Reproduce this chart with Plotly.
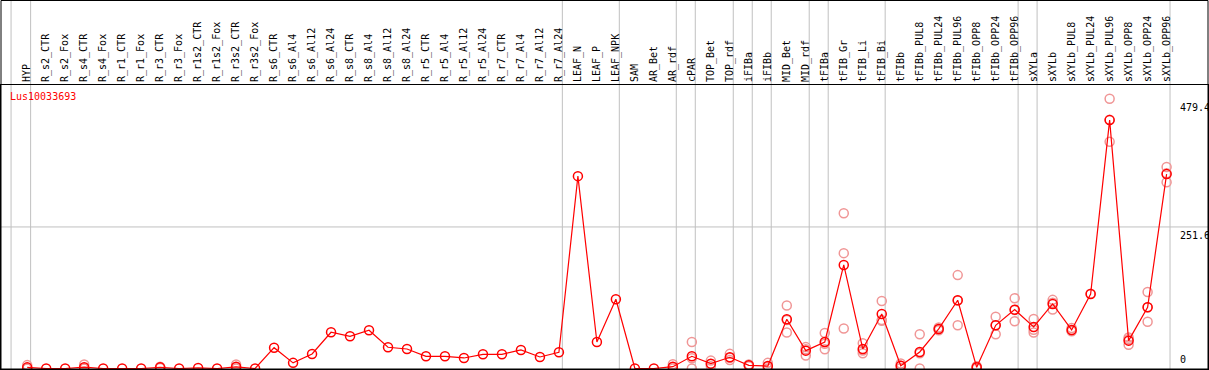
import plotly.graph_objects as go

categories = ["HYP", "R_s2_CTR", "R_s2_Fox", "R_s4_CTR", "R_s4_Fox", "R_r1_CTR", "R_r1_Fox",
              "R_r3_CTR", "R_r3_Fox", "R_r1s2_CTR", "R_r1s2_Fox", "R_r3s2_CTR", "R_r3s2_Fox",
              "R_s6_CTR", "R_s6_Al4", "R_s6_Al12", "R_s6_Al24", "R_s8_CTR", "R_s8_Al4", "R_s8_Al12",
              "R_s8_Al24", "R_r5_CTR", "R_r5_Al4", "R_r5_Al12", "R_r5_Al24", "R_r7_CTR", "R_r7_Al4",
              "R_r7_Al12", "R_r7_Al24", "LEAF_N", "LEAF_P", "LEAF_NPK", "SAM", "AR_Bet", "AR_rdf",
              "cPAR", "TOP_Bet", "TOP_rdf", "iFIBa", "iFIBb", "MID_Bet", "MID_rdf", "tFIBa",
              "tFIB_Gr", "tFIB_Li", "tFIB_Bi", "tFIBb", "tFIBb_PUL8", "tFIBb_PUL24", "tFIBb_PUL96",
              "tFIBb_OPP8", "tFIBb_OPP24", "tFIBb_OPP96", "sXYLa", "sXYLb", "sXYLb_PUL8",
              "sXYLb_PUL24", "sXYLb_PUL96", "sXYLb_OPP8", "sXYLb_OPP24", "sXYLb_OPP96"]

mean_values = [2, 0, 0, 2.3, 0, 0, 0,
               2, 0, 1, 0, 3, 0,
               37, 10, 25.8, 64.4, 57.3, 68, 37.7,
               34.7, 21.7, 21.7, 18.7, 25.2, 25.2, 32.9,
               20.5, 28.8, 341.9, 47.1, 123.1, 0, 0, 3.2,
               21.7, 8.6, 19.9, 5.7, 4.4, 87.5, 31.7, 47.1,
               184, 34.7, 97, 5, 29.4, 70.3, 121.3,
               2.1, 76.8, 104.6, 73.8, 114.7, 68.5,
               132.5, 441.5, 49.5, 108.9, 345.5]

rep_categories = (["HYP"] * 3 + ["R_s4_CTR"] * 3 + ["R_r3_CTR"] * 3 + ["R_r3s2_CTR"] * 3 +
                  ["AR_rdf"] * 3 + ["cPAR"] * 3 + ["TOP_Bet"] * 3 + ["TOP_rdf"] * 3 +
                  ["iFIBa"] * 3 + ["iFIBb"] * 3 + ["MID_Bet"] * 3 + ["MID_rdf"] * 3 +
                  ["tFIBa"] * 3 + ["tFIB_Gr"] * 3 + ["tFIB_Li"] * 3 + ["tFIB_Bi"] * 3 +
                  ["tFIBb"] * 3 + ["tFIBb_PUL8"] * 3 + ["tFIBb_PUL24"] * 3 + ["tFIBb_PUL96"] * 3 +
                  ["tFIBb_OPP8"] * 3 + ["tFIBb_OPP24"] * 3 + ["tFIBb_OPP96"] * 3 + ["sXYLa"] * 3 +
                  ["sXYLb"] * 3 + ["sXYLb_PUL8"] * 3 + ["sXYLb_PUL24"] * 1 + ["sXYLb_PUL96"] * 3 +
                  ["sXYLb_OPP8"] * 3 + ["sXYLb_OPP24"] * 3 + ["sXYLb_OPP96"] * 3)
rep_values = [6, 0, 0, 7, 0, 0, 3, 2, 1, 7, 2, 0,
              7.5, 2, 0, 47, 18, 0, 14, 8, 4, 26, 19, 15,
              7, 6, 4, 10, 3, 0, 112, 86, 64, 38, 34, 23,
              63, 44, 34, 276, 205, 71, 45, 32, 27, 120, 86, 85,
              9, 5, 1, 61, 27, 0, 73, 70, 68, 166, 121, 77,
              4, 2, 0, 92, 77, 61, 125, 104, 84, 88, 69, 64,
              122, 117, 105, 72, 67, 66, 133, 479.4, 442, 403,
              55, 52, 42, 136, 109, 83, 358, 347, 331]

group_ends = ["HYP", "R_r7_Al24", "LEAF_NPK", "AR_rdf", "cPAR", "TOP_rdf", "iFIBa", "iFIBb",
              "MID_rdf", "tFIBa", "tFIB_Bi", "tFIBb_OPP96", "sXYLa", "sXYLb_OPP96"]

y_labels = [479.4, 251.6, 0]
grid_values = [251.6]
gene_id = "Lus10033693"

idx = {c: i for i, c in enumerate(categories)}
x_main = list(range(len(categories)))
x_rep = [idx[c] for c in rep_categories]

RED = "#ff0000"
FADED = "rgb(240,150,150)"
GRAY = "#c0c0c0"
FONT = "DejaVu Sans Mono"

fig = go.Figure()
fig.add_trace(go.Scatter(x=x_rep, y=rep_values, mode="markers",
                         marker=dict(symbol="circle-open", size=9, color=FADED,
                                     line=dict(width=1.5, color=FADED)),
                         showlegend=False, hoverinfo="skip", cliponaxis=False))
fig.add_trace(go.Scatter(x=x_main, y=mean_values, mode="lines+markers",
                         line=dict(color=RED, width=1.2),
                         marker=dict(symbol="circle-open", size=9, color=RED,
                                     line=dict(width=1.5, color=RED)),
                         showlegend=False, cliponaxis=False))

plot_h = 370 - 85 - 1
top_paper = 1 + 85 / plot_h

shapes = []
sep_positions = [-1 + 0.15] + [idx[c] + 0.18 for c in group_ends]
for p in sep_positions:
    shapes.append(dict(type="line", xref="x", yref="paper", x0=p, x1=p, y0=0, y1=top_paper,
                       line=dict(color=GRAY, width=1), layer="below"))
for g in grid_values:
    shapes.append(dict(type="line", xref="paper", yref="y", x0=0, x1=1, y0=g, y1=g,
                       line=dict(color=GRAY, width=1), layer="below"))
shapes.append(dict(type="rect", xref="paper", yref="paper", x0=0, x1=1, y0=0,
                   y1=1 + 84.5 / plot_h, line=dict(color="black", width=1)))

annotations = []
for v in y_labels:
    annotations.append(dict(xref="paper", yref="y", x=(1178 - 1) / 1207, y=v,
                            text=f"{v:g}", showarrow=False, xanchor="left",
                            yanchor="bottom" if v == 0 else "top",
                            yshift=1 if v == 0 else -1,
                            font=dict(family=FONT, size=10, color="black")))
annotations.append(dict(xref="paper", yref="paper", x=(8 - 1) / 1207, y=1,
                        text=gene_id, showarrow=False, xanchor="left", yanchor="top",
                        yshift=-4, font=dict(family=FONT, size=10, color=RED)))

fig.update_layout(
    width=1209, height=370,
    margin=dict(l=1, r=1, t=85, b=1),
    plot_bgcolor="white", paper_bgcolor="white",
    shapes=shapes, annotations=annotations,
    xaxis=dict(range=[-1.38, 62.18], tickvals=x_main, ticktext=categories, side="top",
               tickangle=-90, ticks="", showgrid=False, zeroline=False,
               showline=True, mirror=True, linecolor="black", linewidth=1,
               tickfont=dict(family=FONT, size=10, color="black")),
    yaxis=dict(range=[-0.9, 503.9], showticklabels=False, ticks="", showgrid=False,
               zeroline=False, showline=True, mirror=True, linecolor="black", linewidth=1),
)

fig.write_html("out.html", config={"displayModeBar": False},
               post_script="document.body.style.margin='0';document.body.style.overflow='hidden';")
